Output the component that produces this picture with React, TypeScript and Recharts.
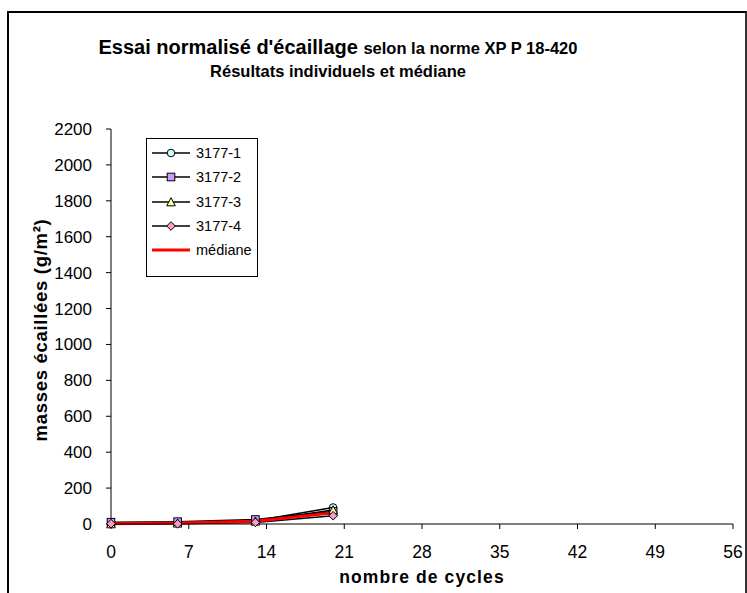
import * as React from "react";
import { LineChart, Line, XAxis, YAxis, Label } from "recharts";

const cycles = [0, 6, 13, 20];
const s1 = [2, 6, 18, 92];
const s2 = [10, 13, 25, 70];
const s3 = [0, 4, 15, 78];
const s4 = [2, 1, 9, 46];
const mediane = [2, 5, 16, 62];

const xTicks = [0, 7, 14, 21, 28, 35, 42, 49, 56];
const yTicks = [0, 200, 400, 600, 800, 1000, 1200, 1400, 1600, 1800, 2000, 2200];

const data = cycles.map((c, i) => ({
  cycle: c,
  s1: s1[i],
  s2: s2[i],
  s3: s3[i],
  s4: s4[i],
  med: mediane[i],
}));

const FONT = "Arial, 'Liberation Sans', sans-serif";

type Shape = "circle" | "square" | "triangle" | "diamond" | "none";

const series: { key: string; name: string; shape: Shape; fill: string }[] = [
  { key: "s1", name: "3177-1", shape: "circle", fill: "#ccffff" },
  { key: "s2", name: "3177-2", shape: "square", fill: "#cc99ff" },
  { key: "s3", name: "3177-3", shape: "triangle", fill: "#ffff99" },
  { key: "s4", name: "3177-4", shape: "diamond", fill: "#ff99cc" },
];

const marker = (shape: Shape, cx: number, cy: number, fill: string, key?: string) => {
  const r = 3.8;
  const common = { fill, stroke: "#000", strokeWidth: 1 };
  if (shape === "circle") return <circle key={key} cx={cx} cy={cy} r={r} {...common} />;
  if (shape === "square")
    return <rect key={key} x={cx - r} y={cy - r} width={r * 2} height={r * 2} {...common} />;
  if (shape === "triangle")
    return (
      <polygon
        key={key}
        points={`${cx},${cy - r - 0.5} ${cx + r + 0.5},${cy + r} ${cx - r - 0.5},${cy + r}`}
        {...common}
      />
    );
  if (shape === "diamond")
    return (
      <polygon
        key={key}
        points={`${cx},${cy - r - 0.5} ${cx + r + 0.5},${cy} ${cx},${cy + r + 0.5} ${cx - r - 0.5},${cy}`}
        {...common}
      />
    );
  return <g key={key} />;
};

const LegendBox = () => (
  <div
    style={{
      position: "absolute",
      left: 146,
      top: 138,
      border: "1px solid #000",
      background: "#fff",
      width: 112,
      height: 139,
      paddingTop: 2,
      boxSizing: "border-box",
      fontFamily: FONT,
      fontSize: 14.5,
    }}
  >
    {[...series, { key: "med", name: "médiane", shape: "none" as Shape, fill: "" }].map((s) => (
      <div key={s.key} style={{ display: "flex", alignItems: "center", height: 24.3 }}>
        <svg width={44} height={14} style={{ marginLeft: 5, flexShrink: 0 }}>
          {s.shape === "none" ? (
            <line x1={0} x2={38} y1={7} y2={7} stroke="#ff0000" strokeWidth={3} />
          ) : (
            <>
              <line x1={0} x2={38} y1={7} y2={7} stroke="#000" strokeWidth={1.3} />
              {marker(s.shape, 19, 7, s.fill)}
            </>
          )}
        </svg>
        <span>{s.name}</span>
      </div>
    ))}
  </div>
);

export default function App() {
  return (
    <div
      style={{
        position: "absolute",
        left: 0,
        top: 0,
        width: 747,
        height: 593,
        background: "#fff",
        overflow: "hidden",
      }}
    >
      <div
        style={{
          position: "absolute",
          left: 7,
          top: 11,
          width: 736,
          height: 620,
          border: "2px solid #000",
          borderRightColor: "#333",
        }}
      />
      <div
        style={{
          position: "absolute",
          left: 0,
          width: 676,
          top: 34,
          textAlign: "center",
          fontFamily: FONT,
          fontWeight: "bold",
          color: "#000",
          whiteSpace: "nowrap",
        }}
      >
        <div style={{ height: 26, lineHeight: "26px" }}>
          <span style={{ fontSize: 20 }}>Essai normalisé d'écaillage </span>
          <span style={{ fontSize: 16.5 }}>selon la norme XP P 18-420</span>
        </div>
        <div style={{ fontSize: 16.5, lineHeight: "22px" }}>Résultats individuels et médiane</div>
      </div>
      <div style={{ position: "absolute", left: 0, top: 0 }}>
        <LineChart
          width={747}
          height={593}
          data={data}
          margin={{ top: 129, right: 14, bottom: 9, left: 51 }}
        >
          <XAxis
            dataKey="cycle"
            type="number"
            domain={[0, 56]}
            ticks={xTicks}
            height={60}
            stroke="#000"
            tickSize={5}
            tick={{ fontSize: 17.5, fill: "#000", fontFamily: FONT }}
            tickMargin={17}
          >
            <Label
              value="nombre de cycles"
              position="insideBottom"
              offset={1}
              style={{
                fontSize: 17.5,
                fontWeight: "bold",
                fill: "#000",
                fontFamily: FONT,
                letterSpacing: 1.1,
              }}
            />
          </XAxis>
          <YAxis
            type="number"
            domain={[0, 2200]}
            ticks={yTicks}
            width={60}
            stroke="#000"
            tickSize={5}
            tickMargin={14}
            tick={{ fontSize: 17, fill: "#000", fontFamily: FONT }}
          >
            <Label
              content={() => (
                <text
                  transform="translate(40,330) rotate(-90)"
                  textAnchor="middle"
                  dominantBaseline="central"
                  style={{
                    fontSize: 18.5,
                    fontWeight: "bold",
                    fill: "#000",
                    fontFamily: FONT,
                    letterSpacing: 0.7,
                  }}
                >
                  masses écaillées (g/m²)
                </text>
              )}
            />
          </YAxis>
          {series.map((s) => (
            <Line
              key={s.key}
              dataKey={s.key}
              name={s.name}
              stroke="#000"
              strokeWidth={1.5}
              isAnimationActive={false}
              dot={(p: any) => marker(s.shape, p.cx, p.cy, s.fill, `${s.key}-${p.index}`)}
              activeDot={false}
            />
          ))}
          <Line
            dataKey="med"
            name="médiane"
            stroke="#ff0000"
            strokeWidth={3}
            dot={false}
            activeDot={false}
            isAnimationActive={false}
          />
        </LineChart>
      </div>
      <LegendBox />
    </div>
  );
}
